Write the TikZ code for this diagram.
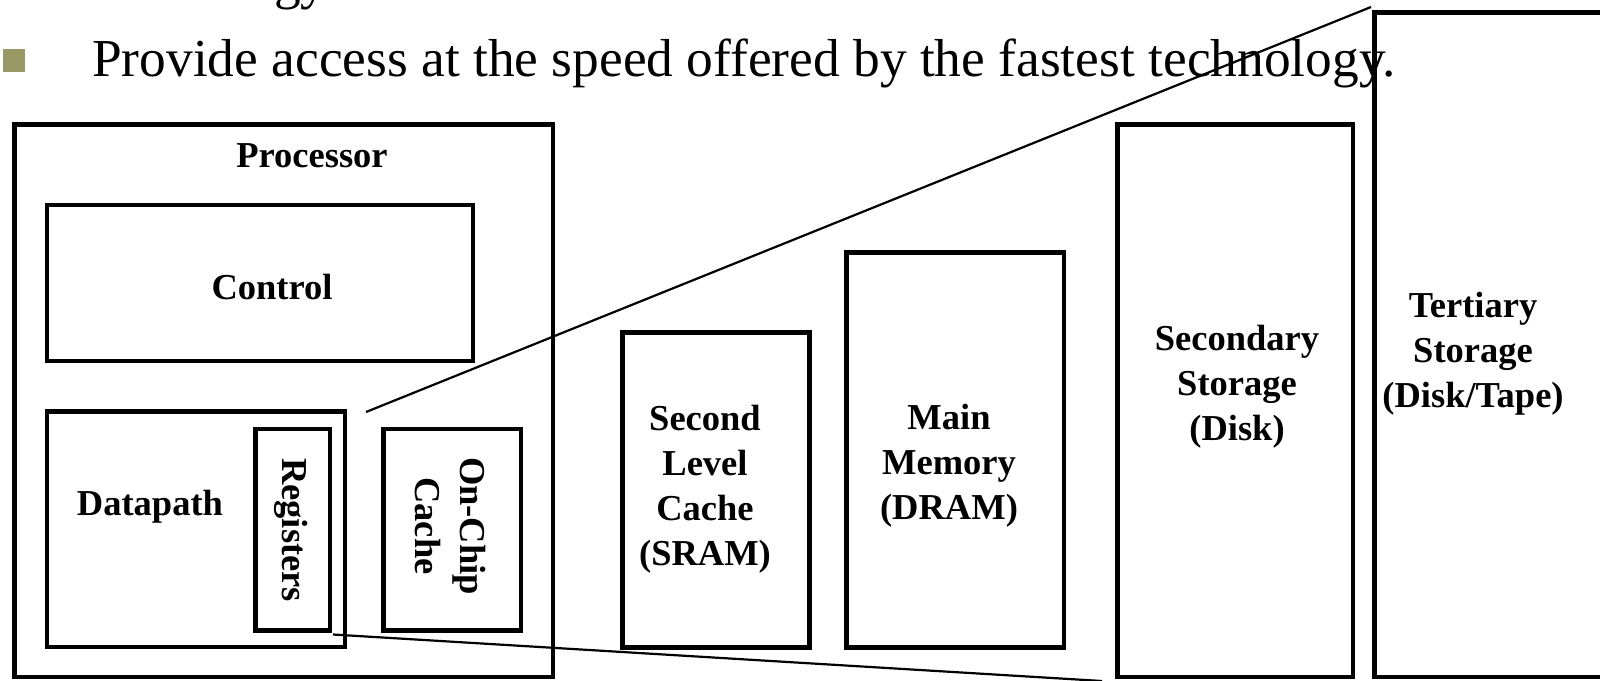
\documentclass[tikz,border=0pt]{standalone}
\usepackage{fontspec}
\setmainfont{Liberation Serif}
\definecolor{bulletolive}{RGB}{153,153,102}
\tikzset{
  box/.style={draw=black, line width=4.6pt, inner sep=0pt, rectangle},
  lbl/.style={font=\fontsize{36.5}{45}\selectfont\bfseries, align=center, inner sep=0pt},
  body/.style={font=\fontsize{53.4}{60}\selectfont, inner sep=0pt},
  link/.style={line width=2.2pt},
}
\begin{document}
\begin{tikzpicture}[x=1pt, y=-1pt]
\useasboundingbox (0,0) rectangle (1600,680);
\clip (0,0) rectangle (1600,680);

% bullet line at the top
\node[body, anchor=base west] (prevline) at (274,-1.5) {gy};
\fill[bulletolive] (2.7,49) rectangle (25.3,72);
\node[body, anchor=base west] (bullet) at (92,76)
  {Provide access at the speed offered by the fastest technology.};

% processor and its parts
\node[box, minimum width=538.5pt, minimum height=552.5pt] (proc) at (283.75,400.75) {};
\node[box, minimum width=426pt, minimum height=156pt] (ctrl) at (260,283) {};
\node[box, minimum width=298pt, minimum height=235.5pt] (dp) at (196,529.25) {};
\node[box, minimum width=74.5pt, minimum height=201.5pt] (regs) at (292.75,529.75) {};
\node[box, minimum width=137.5pt, minimum height=201.5pt] (onchip) at (452.25,529.75) {};

% memory levels
\node[box, minimum width=187pt, minimum height=315pt] (l2) at (716,490) {};
\node[box, minimum width=217.5pt, minimum height=395pt] (mem) at (955.25,450) {};
\node[box, minimum width=235.5pt, minimum height=552.5pt] (disk) at (1235.25,400.75) {};
\node[box, minimum width=265.5pt, minimum height=664.5pt] (tert) at (1507.25,344.75) {};

% labels
\node[lbl, anchor=base] (proc-t) at (312,167) {Processor};
\node[lbl, anchor=base] (ctrl-t) at (272,299) {Control};
\node[lbl, anchor=base] (dp-t) at (150,515) {Datapath};
\node[lbl, rotate=-90] (regs-t) at (291,530) {Registers};
\node[lbl, rotate=-90] (onchip-t) at (450,526) {On-Chip\\Cache};
\node[lbl] (l2-t) at (705,489) {Second\\Level\\Cache\\(SRAM)};
\node[lbl] (mem-t) at (949,466) {Main\\Memory\\(DRAM)};
\node[lbl] (disk-t) at (1237,387) {Secondary\\Storage\\(Disk)};
\node[lbl] (tert-t) at (1473,354) {Tertiary\\Storage\\(Disk/Tape)};

% zoom lines from the registers out to the wider levels
\coordinate (up-a) at (366,412);
\coordinate (up-b) at (1371,7);
\coordinate (lo-a) at (333,634.5);
\coordinate (lo-b) at (1102,681);
\draw[link] (up-a) -- (up-b);
\draw[link] (lo-a) -- (lo-b);
\end{tikzpicture}
\end{document}
